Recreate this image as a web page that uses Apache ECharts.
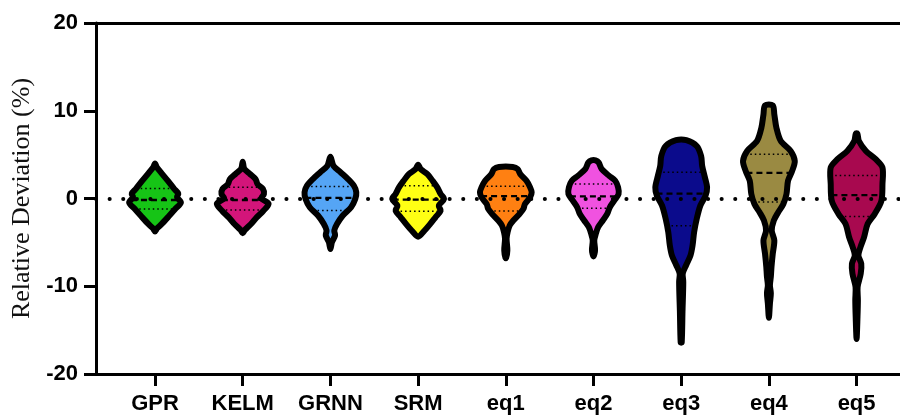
<!DOCTYPE html>
<html>
<head>
<meta charset="utf-8">
<script src="https://cdn.jsdelivr.net/npm/echarts@6/dist/echarts.min.js"></script>
<style>
  html, body { margin: 0; padding: 0; background: #fff; }
  #chart { width: 900px; height: 415px; }
</style>
</head>
<body>
<div id="chart"></div>
<script>
// Model names along the x axis
const categories = ['GPR', 'KELM', 'GRNN', 'SRM', 'eq1', 'eq2', 'eq3', 'eq4', 'eq5'];

// Fill colour of each violin
const fillColors = ['#16c416', '#d3157a', '#55a5f5', '#ffff14', '#ff8012', '#f052e0', '#0b0b8c', '#9a8a42', '#a8094f'];

// Quartiles and medians of the relative deviation (%)
const upperQuartile = [1.15, 1.27, 1.38, 1.45, 1.4, 1.64, 3.0, 5.04, 2.62];
const medians = [-0.17, -0.17, 0.06, -0.13, 0.28, 0.25, 0.55, 2.93, 0.38];
const lowerQuartile = [-1.19, -1.3, -1.38, -1.45, -1.42, -1.1, -3.1, -0.4, -2.06];

// Kernel density profiles: [relative deviation (%), density scaled to the widest point]
const densityGPR = [[4.0, 0], [3.6, 0.06], [3.0, 0.22], [2.0, 0.5], [1.1, 0.74], [0.55, 0.9], [0.15, 0.85], [-0.45, 1.0], [-1.2, 0.78], [-2.0, 0.54], [-2.9, 0.26], [-3.4, 0.08], [-3.75, 0]];
const densityKELM = [[4.2, 0], [3.4, 0.06], [2.8, 0.28], [2.2, 0.5], [1.65, 0.57], [1.1, 0.78], [0.5, 0.82], [0.02, 0.72], [-0.6, 1.0], [-1.4, 0.8], [-2.15, 0.54], [-2.9, 0.32], [-3.6, 0.08], [-3.95, 0]];
const densityGRNN = [[4.75, 0], [3.72, 0.12], [2.97, 0.4], [2.21, 0.68], [1.45, 0.91], [0.7, 1.0], [-0.06, 0.96], [-0.99, 0.8], [-1.94, 0.48], [-2.89, 0.26], [-3.64, 0.15], [-4.2, 0.18], [-4.97, 0.06], [-5.75, 0]];
const densitySRM = [[3.85, 0], [3.34, 0.1], [2.78, 0.36], [2.02, 0.56], [1.27, 0.74], [0.51, 0.87], [-0.06, 1.0], [-0.82, 0.8], [-1.38, 0.87], [-2.14, 0.67], [-2.89, 0.47], [-3.65, 0.25], [-4.35, 0]];
const densityEq1 = [[3.6, 0.27], [3.34, 0.46], [2.78, 0.56], [2.02, 0.8], [1.27, 0.94], [0.7, 1.0], [0.13, 0.94], [-0.62, 0.74], [-1.19, 0.68], [-1.76, 0.53], [-2.51, 0.29], [-3.08, 0.15], [-3.83, 0.07], [-4.59, 0.03], [-5.9, 0.06], [-6.8, 0]];
const densityEq2 = [[4.35, 0.08], [4.1, 0.2], [3.34, 0.32], [2.59, 0.6], [2.02, 0.84], [1.27, 0.95], [0.51, 0.97], [-0.25, 0.8], [-1.0, 0.63], [-1.76, 0.53], [-2.51, 0.36], [-3.27, 0.18], [-4.02, 0.09], [-4.78, 0.03], [-5.9, 0.06], [-6.6, 0]];
const densityEq3 = [[6.65, 0.2], [5.99, 0.6], [4.85, 0.77], [3.72, 0.81], [2.59, 0.9], [1.27, 1.0], [0.32, 0.94], [-0.81, 0.74], [-2.32, 0.6], [-3.83, 0.5], [-5.34, 0.44], [-6.48, 0.36], [-7.61, 0.19], [-8.55, 0.06], [-9.5, 0.08], [-12.9, 0.05], [-16.4, 0.02]];
const densityEq4 = [[10.6, 0.15], [9.58, 0.21], [8.07, 0.29], [6.55, 0.46], [5.42, 0.84], [4.28, 1.0], [3.15, 0.9], [2.02, 0.74], [0.51, 0.68], [-0.62, 0.56], [-1.57, 0.36], [-2.51, 0.19], [-3.65, 0.11], [-4.78, 0.21], [-6.29, 0.15], [-7.8, 0.1], [-8.93, 0.075], [-9.88, 0.04], [-10.8, 0.075], [-11.96, 0.04], [-13.6, 0]];
const densityEq5 = [[7.4, 0.03], [6.55, 0.09], [5.42, 0.36], [4.48, 0.74], [3.53, 1.0], [1.64, 1.0], [-0.25, 0.96], [-1.76, 0.7], [-2.89, 0.43], [-4.4, 0.29], [-5.53, 0.15], [-6.48, 0.07], [-7.42, 0.18], [-8.56, 0.16], [-10.07, 0.04], [-11.58, 0.05], [-13.47, 0.035], [-16.0, 0]];

// y-axis ticks
const yTicks = [-20, -10, 0, 10, 20];

const densities = [densityGPR, densityKELM, densityGRNN, densitySRM, densityEq1, densityEq2, densityEq3, densityEq4, densityEq5];
const categoryIndex = categories.map((_, i) => i);

const HALF_WIDTH = 0.295;   // half width of the widest part of a violin, in category units
const OUTLINE = 6;

function densityAt(profile, v) {
  for (let k = 0; k < profile.length - 1; k++) {
    const a = profile[k], b = profile[k + 1];
    if ((v <= a[0] && v >= b[0])) {
      const t = (a[0] - v) / (a[0] - b[0]);
      return a[1] + (b[1] - a[1]) * t;
    }
  }
  return 0;
}

function renderViolin(params, api) {
  const i = api.value(0);
  const profile = densities[i];
  const halfPx = api.size([HALF_WIDTH, 0])[0];
  const cx = api.coord([i, 0])[0];

  const right = profile.map(([v, d]) => [cx + d * halfPx, api.coord([i, v])[1]]);
  const left = profile.slice().reverse()
    .filter(([v, d], k, arr) => !(d === 0 && (k === 0 || k === arr.length - 1)))
    .map(([v, d]) => [cx - d * halfPx, api.coord([i, v])[1]]);
  const points = right.concat(left);

  const guide = (v, dash, width) => {
    const w = densityAt(profile, v) * halfPx;
    const y = api.coord([i, v])[1];
    return {
      type: 'line',
      shape: { x1: cx - w, y1: y, x2: cx + w, y2: y },
      style: { stroke: '#000', lineWidth: width, lineDash: dash }
    };
  };

  return {
    type: 'group',
    children: [
      { type: 'polygon', shape: { points, smooth: 0.3 }, style: { fill: fillColors[i], stroke: null } },
      guide(upperQuartile[i], [1.5, 3], 1.5),
      guide(medians[i], [6, 4], 2.3),
      guide(lowerQuartile[i], [1.5, 3], 1.5),
      { type: 'polygon', shape: { points, smooth: 0.3 }, style: { fill: null, stroke: '#000', lineWidth: OUTLINE, lineJoin: 'round' } }
    ]
  };
}

const chart = echarts.init(document.getElementById('chart'), null, { renderer: 'canvas' });

const axisFont = { fontFamily: 'Liberation Sans, Arial, sans-serif', fontWeight: 'bold', fontSize: 22, color: '#000' };

chart.setOption({
  animation: false,
  backgroundColor: '#fff',
  grid: { left: 96, right: 0, top: 23, bottom: 39 },
  xAxis: [
    {
      type: 'value',
      min: -0.673,
      max: 8.495,
      axisLine: { show: true, onZero: false, lineStyle: { color: '#000', width: 3 } },
      axisTick: { show: true, customValues: categoryIndex, length: 12, lineStyle: { color: '#000', width: 3 } },
      axisLabel: Object.assign({ customValues: categoryIndex, margin: 19, formatter: v => categories[Math.round(v)] }, axisFont),
      splitLine: { show: false }
    },
    {
      type: 'value',
      position: 'top',
      min: -0.673,
      max: 8.495,
      axisLine: { show: true, onZero: false, lineStyle: { color: '#000', width: 3 } },
      axisTick: { show: false },
      axisLabel: { show: false },
      splitLine: { show: false }
    }
  ],
  yAxis: {
    type: 'value',
    min: yTicks[0],
    max: yTicks[yTicks.length - 1],
    interval: 10,
    name: 'Relative Deviation (%)',
    nameLocation: 'middle',
    nameGap: 60,
    nameTextStyle: { fontFamily: 'Liberation Serif, Times New Roman, serif', fontSize: 26, color: '#111' },
    axisLine: { show: true, onZero: false, lineStyle: { color: '#000', width: 3 } },
    axisTick: { show: true, length: 12, lineStyle: { color: '#000', width: 3 } },
    axisLabel: Object.assign({ margin: 18 }, axisFont),
    splitLine: { show: false }
  },
  series: [
    {
      type: 'line',
      data: [],
      z: 1,
      markLine: {
        silent: true,
        symbol: 'none',
        label: { show: false },
        lineStyle: { color: '#000', width: 4, type: [0.1, 13.5], cap: 'round' },
        data: [{ yAxis: 0 }]
      }
    },
    {
      type: 'custom',
      z: 3,
      renderItem: renderViolin,
      encode: { x: 0, y: 1 },
      data: categoryIndex.map(i => [i, medians[i]])
    }
  ]
});
</script>
</body>
</html>
